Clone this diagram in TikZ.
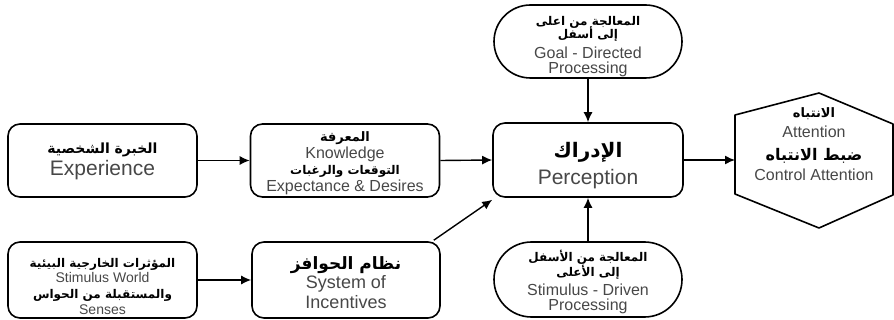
\documentclass[tikz,border=0pt]{standalone}
\usepackage{fontspec}
\setmainfont{Liberation Sans}
\newfontfamily\arabtxt[Script=Arabic]{DejaVu Sans}
\TeXXeTstate=1
\usepackage{xcolor}
\usepackage{tikz}
\usetikzlibrary{shapes.misc, shapes.geometric, arrows.meta, positioning}

\newcommand{\artext}[2]{{\arabtxt\bfseries\color{black}\fontsize{#1}{#1}\selectfont\smash{#2}}}
\newcommand{\fsz}[2]{\fontsize{#1}{#2}\selectfont}

\begin{document}
\begin{tikzpicture}[x=1pt, y=-1pt,
    infobox/.style = {rectangle, rounded corners=12pt, draw=black, line width=1.6pt, minimum width=189pt, minimum height=73pt, align=center, text=black!72, inner sep=1pt, text depth=0pt},
    procbox/.style = {rounded rectangle, draw=black, line width=1.6pt, minimum width=190pt, minimum height=73pt, align=center, text=black!72, inner sep=1pt, text depth=0pt},
    flow/.style = {-{Latex[length=10pt,width=9pt]}, line width=1.4pt}
]
\useasboundingbox (0,0) rectangle (894,320);

\node [infobox, text height=31pt, font=\fsz{21}{22}] (exper) at (102.5,160.5)
    {\artext{14}{\beginR الخبرة الشخصية\endR}\\Experience};
\node [infobox, text height=62pt, font=\fsz{16}{16.7}] (knowl) at (345,160.5)
    {\artext{13}{\beginR المعرفة\endR}\\Knowledge\\\artext{12}{\beginR التوقعات والرغبات\endR}\\Expectance \& Desires};
\node [infobox, minimum height=76pt, text height=68pt, font=\fsz{14}{15.6}] (stimw) at (102.5,280)
    {\artext{12}{\beginR المؤثرات الخارجية البيئية\endR}\\Stimulus World\\\artext{12}{\beginR والمستقبلة من الحواس\endR}\\Senses};
\node [infobox, minimum height=76pt, minimum width=188pt, text height=57pt, font=\fsz{18}{19.5}] (incent) at (346,280)
    {\artext{17}{\beginR نظام الحوافز\endR}\\System of\\Incentives};

\node [infobox, minimum width=190pt, minimum height=74pt, text height=50pt, font=\fsz{21}{27}] (percep) at (588,160)
    {\artext{20}{\beginR الإدراك\endR}\\Perception};
\node [procbox, text height=65pt, font=\fsz{16}{15}] (goal) at (588,41.5)
    {\artext{12}{\beginR المعالجة من اعلى\endR}\\[-2pt]\artext{12}{\beginR إلى أسفل\endR}\\[5pt]Goal - Directed\\Processing};
\node [procbox, minimum height=75pt, text height=63pt, font=\fsz{16}{15}] (stimd) at (588,279.5)
    {\artext{12}{\beginR المعالجة من الأسفل\endR}\\\artext{12}{\beginR إلى الأعلى\endR}\\[5pt]Stimulus - Driven\\Processing};

\draw [line width=1.6pt, line join=round] (735,115) -- (819,93) -- (893,124) -- (893,195) -- (819,228) -- (735,194) -- cycle;
\node [align=center, text=black!72, text depth=0pt, text height=75pt, font=\fsz{16}{20}] (atten) at (814,143.5)
    {\artext{13}{\beginR الانتباه\endR}\\Attention\\[3pt]\artext{16}{\beginR ضبط  الانتباه\endR}\\Control Attention};
\coordinate (hexw) at (735,160);

\draw [flow] (exper.east) -- (knowl.west);
\draw [flow] (knowl.east) -- (percep.west);
\draw [flow] (goal.south) -- (percep.north);
\draw [flow] (stimd.north) -- (percep.south);
\draw [flow] (stimw.east) -- (incent.west);
\draw [flow] ([xshift=-7pt, yshift=1pt]incent.north east) -- ([yshift=-2pt]percep.south west);
\draw [flow] (percep.east) -- (hexw);

\end{tikzpicture}
\end{document}
